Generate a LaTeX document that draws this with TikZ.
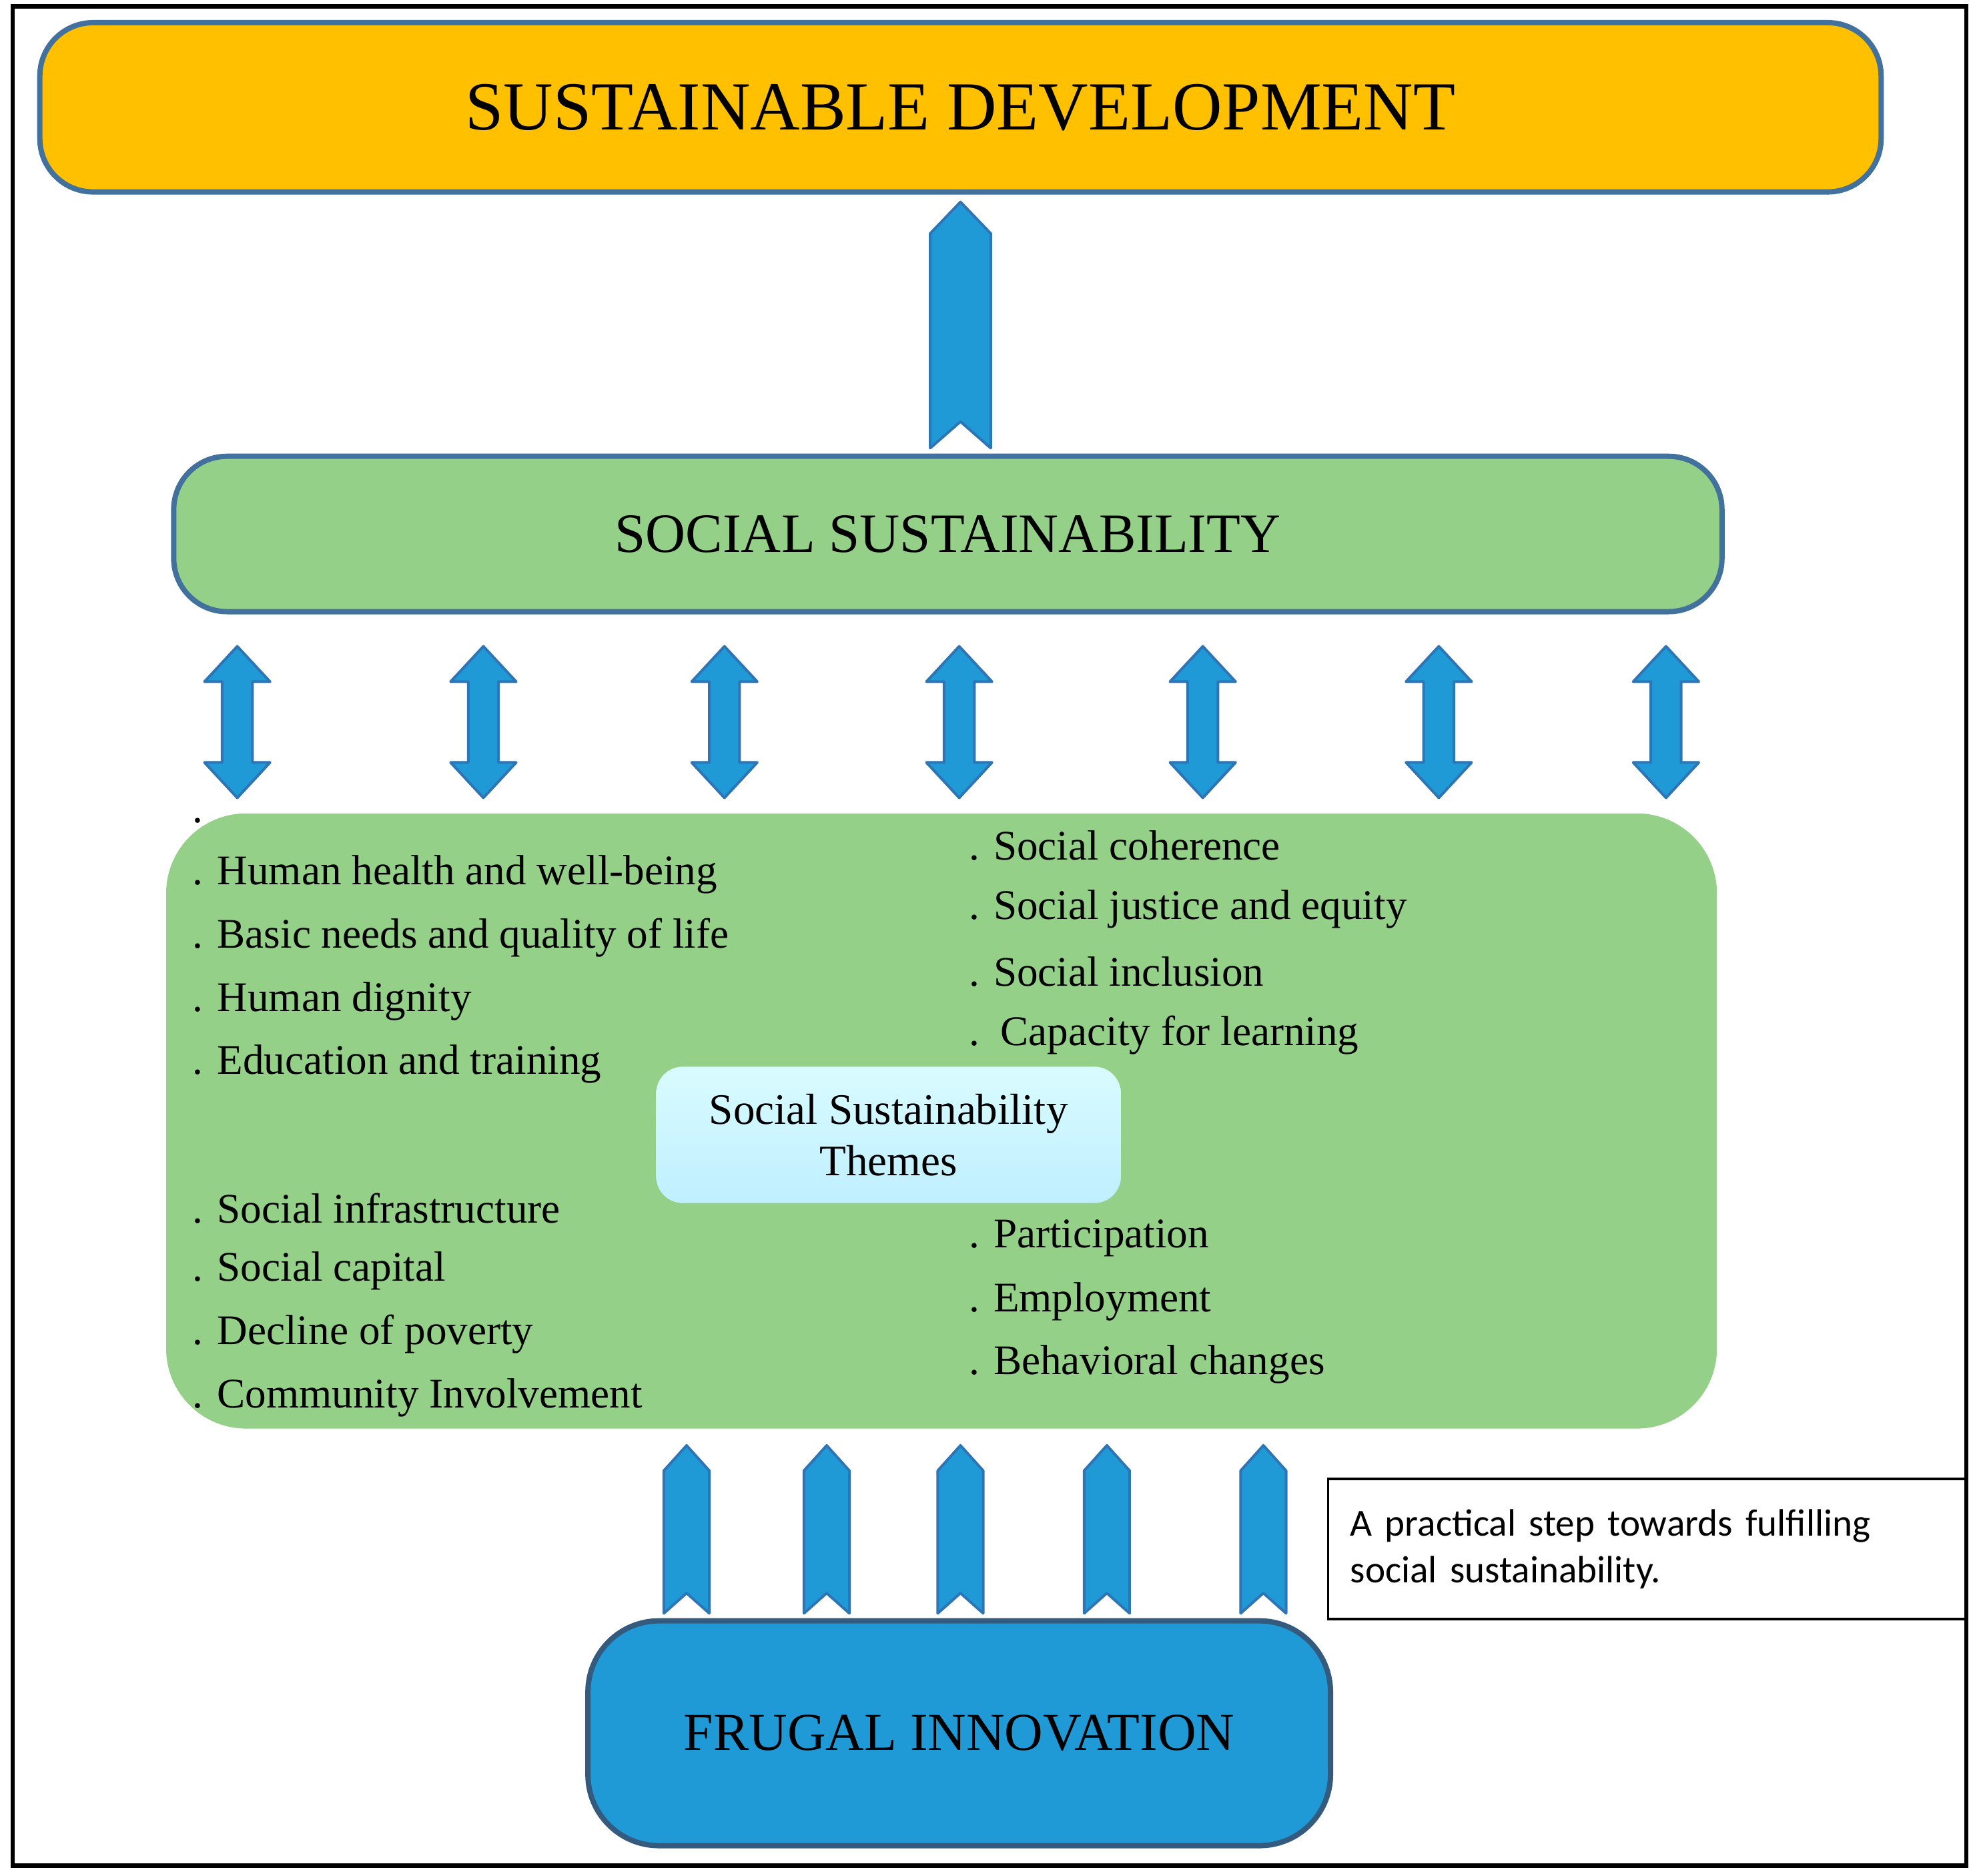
\documentclass[tikz,border=0pt]{standalone}
\usepackage{fontspec}
\setmainfont{Liberation Serif}
\newfontfamily\notefont{Carlito}
\usetikzlibrary{positioning}
\definecolor{sdorange}{HTML}{FFC000}
\definecolor{ssgreen}{HTML}{95D089}
\definecolor{arrowblue}{HTML}{1F9AD6}
\definecolor{edgeblue}{HTML}{2E75B6}
\definecolor{boxedge}{HTML}{41719C}
\tikzset{
    bigbox/.style={draw=boxedge, line width=1.2pt, rounded corners=12pt, text=black}, % the three main boxes
    item/.style={anchor=west, font=\fontsize{9.5}{11}\selectfont, inner sep=0pt}, % theme lines
    arrowfill/.style={fill=arrowblue, draw=edgeblue, line width=0.6pt, line join=round},
}
% upward chevron: x, tip y, bottom y, half width, shoulder drop
\newcommand\upchev[5]{%
  \draw[arrowfill] (#1,#2) -- ++(#4,#5) -- (#1+#4,#3) -- (#1,#3-#5+4) -- (#1-#4,#3) -- (#1-#4,#2+#5) -- cycle;}
% two headed arrow at x
\newcommand\twoway[1]{%
  \draw[arrowfill] (#1,512) -- (#1+26,540) -- (#1+12,540) -- (#1+12,604) -- (#1+26,604)
    -- (#1,632) -- (#1-26,604) -- (#1-12,604) -- (#1-12,540) -- (#1-26,540) -- cycle;}
\begin{document}
\begin{tikzpicture}[x=0.01cm, y=-0.01cm]
    \useasboundingbox (0,0) rectangle (1568,1486);
    \draw[line width=1pt] (10,5) rectangle (1558,1478);
    % boxes
    \node[bigbox, fill=sdorange, minimum width=14.58cm, minimum height=1.34cm,
      font=\fontsize{15.5}{18}\selectfont] (sd) at (761,85) {SUSTAINABLE DEVELOPMENT};
    \node[bigbox, fill=ssgreen, minimum width=12.26cm, minimum height=1.23cm,
      font=\fontsize{12.5}{15}\selectfont] (ss) at (751,423) {SOCIAL SUSTAINABILITY};
    \node[fill=ssgreen, rounded corners=18pt, minimum width=12.28cm, minimum height=4.87cm] (themes) at (746,888) {};
    \node[rounded corners=6pt, top color=blue!10!cyan!15, bottom color=blue!25!cyan!25,
      minimum width=3.68cm, minimum height=1.08cm, align=center,
      font=\fontsize{9.8}{11.5}\selectfont] (core) at (704,899) {Social Sustainability\\Themes};
    \node[bigbox, fill=arrowblue, draw=boxedge!80!black, rounded corners=16pt,
      minimum width=5.88cm, minimum height=1.78cm,
      font=\fontsize{12}{14}\selectfont] (fi) at (760,1373) {FRUGAL INNOVATION};
    \node[draw, line width=0.5pt, minimum width=5.05cm, minimum height=1.11cm,
      align=left, text width=4.7cm, font=\notefont\fontsize{8.6}{10.5}\selectfont] (note) at (1305,1227)
      {A practical step towards fulfilling social sustainability.};
    % arrows
    \upchev{761}{160}{355}{24}{25}
    \foreach \x in {188,383,574,760,953,1140,1320} {\twoway{\x}}
    \foreach \x in {544,655,761,877,1001} {\upchev{\x}{1145}{1278}{18}{20}}
    % theme lines
    \node[item] at (152,650) {.};
    \node[item] (l1) at (152,693) {. Human health and well-being};
    \node[item] (l2) at (152,743) {. Basic needs and quality of life};
    \node[item] (l3) at (152,793) {. Human dignity};
    \node[item] (l4) at (152,843) {. Education and training};
    \node[item] (l5) at (152,957) {. Social infrastructure};
    \node[item] (l6) at (152,1007) {. Social capital};
    \node[item] (l7) at (152,1057) {. Decline of poverty};
    \node[item] (l8) at (152,1107) {. Community Involvement};
    \node[item] (r1) at (767,670) {. Social coherence};
    \node[item] (r2) at (767,720) {. Social justice and equity};
    \node[item] (r3) at (767,770) {. Social inclusion};
    \node[item] (r4) at (767,820) {.\ \ Capacity for learning};
    \node[item] (r5) at (767,981) {. Participation};
    \node[item] (r6) at (767,1031) {. Employment};
    \node[item] (r7) at (767,1081) {. Behavioral changes};
\end{tikzpicture}
\end{document}
